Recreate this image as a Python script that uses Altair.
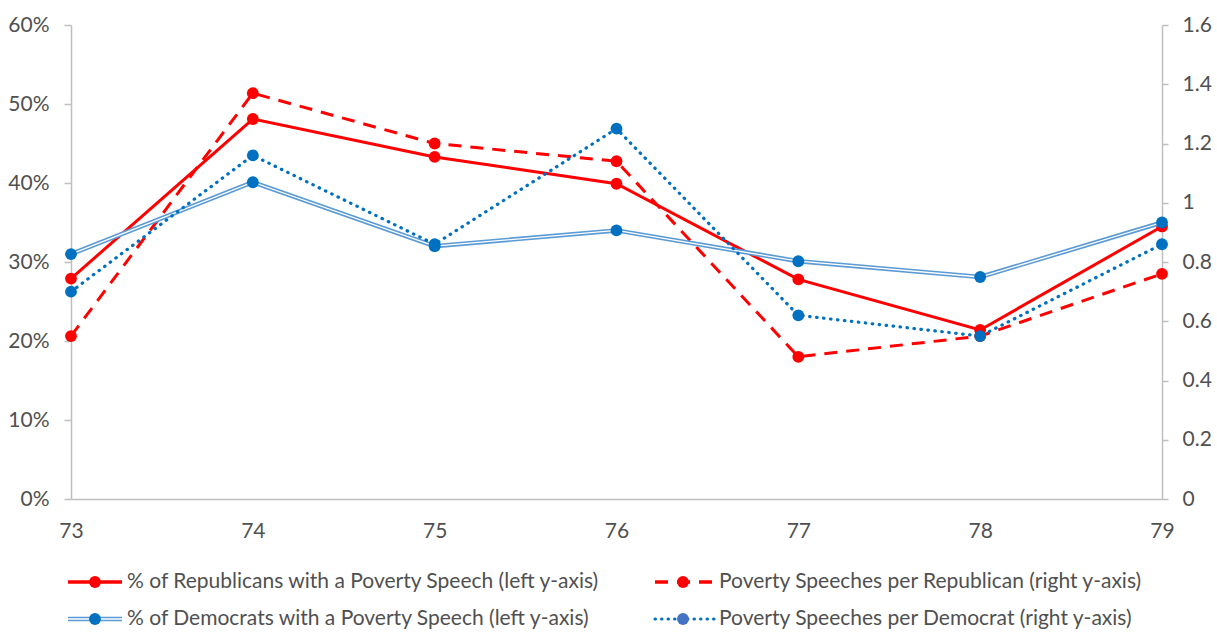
import altair as alt
import pandas as pd

# Congress numbers and the four series
congress = [73, 74, 75, 76, 77, 78, 79]
rep_pct = [0.279, 0.481, 0.433, 0.399, 0.278, 0.214, 0.345]   # left axis
dem_pct = [0.310, 0.401, 0.320, 0.340, 0.301, 0.281, 0.350]   # left axis
rep_per = [0.55, 1.37, 1.20, 1.14, 0.48, 0.55, 0.76]          # right axis
dem_per = [0.70, 1.16, 0.86, 1.25, 0.62, 0.55, 0.86]          # right axis

left_ticks = [0, 0.1, 0.2, 0.3, 0.4, 0.5, 0.6]
right_ticks = [0, 0.2, 0.4, 0.6, 0.8, 1.0, 1.2, 1.4, 1.6]

legend_labels = [
    "% of Republicans with a Poverty Speech (left y-axis)",
    "Poverty Speeches per Republican (right y-axis)",
    "% of Democrats with a Poverty Speech (left y-axis)",
    "Poverty Speeches per Democrat (right y-axis)",
]

df = pd.DataFrame({
    "congress": congress,
    "rep_pct": rep_pct,
    "dem_pct": dem_pct,
    "rep_per": rep_per,
    "dem_per": dem_per,
})

FONT = "Lato"
FS = 21
GREY = "#505050"
AXIS_GREY = "#BFBFBF"
RED = "#FF0000"
BLUE = "#0070C0"
LIGHT_BLUE = "#5B9BD5"

W, H = 1091, 474

x_enc = alt.X(
    "congress:Q",
    scale=alt.Scale(domain=[73, 79], nice=False, zero=False),
    axis=alt.Axis(values=congress, format="d", title=None, grid=False,
                  ticks=False, domainColor=AXIS_GREY, domainWidth=1.5,
                  labelFontSize=FS, labelColor=GREY, labelFont=FONT,
                  labelPadding=21, labelFlush=False),
)

left_scale = alt.Scale(domain=[0, 0.6], nice=False)
right_scale = alt.Scale(domain=[0, 1.6], nice=False)

left_axis = alt.Axis(values=left_ticks, format=".0%", title=None, grid=False,
                     orient="left", domainColor=AXIS_GREY, domainWidth=1.5,
                     tickColor=AXIS_GREY, tickWidth=1.5, tickSize=7,
                     labelFontSize=FS, labelColor=GREY, labelFont=FONT,
                     labelPadding=15, labelFlush=False)
right_axis = alt.Axis(values=right_ticks, format="~g", title=None, grid=False,
                      orient="right", domainColor=AXIS_GREY, domainWidth=1.5,
                      tickColor=AXIS_GREY, tickWidth=1.5, tickSize=6,
                      labelFontSize=FS, labelColor=GREY, labelFont=FONT,
                      labelPadding=14, labelFlush=False)

base = alt.Chart(df)
DOT = 140


def y_left(field, with_axis=False):
    return alt.Y(f"{field}:Q", scale=left_scale,
                 axis=left_axis if with_axis else None)


def y_right(field, with_axis=False):
    return alt.Y(f"{field}:Q", scale=right_scale,
                 axis=right_axis if with_axis else None)


# Republicans share (solid red) - carries the left axis
rep_pct_layer = alt.layer(
    base.mark_line(color=RED, strokeWidth=3).encode(x=x_enc, y=y_left("rep_pct", True)),
    base.mark_point(filled=True, opacity=1, color=RED, size=DOT).encode(x=x_enc, y=y_left("rep_pct", True)),
)

# Speeches per Republican (dashed red) - carries the right axis
rep_per_layer = alt.layer(
    base.mark_line(color=RED, strokeWidth=3, strokeDash=[13, 9]).encode(x=x_enc, y=y_right("rep_per", True)),
    base.mark_point(filled=True, opacity=1, color=RED, size=DOT).encode(x=x_enc, y=y_right("rep_per", True)),
)

# Democrats share (double blue line)
dem_pct_layer = alt.layer(
    base.mark_line(color=LIGHT_BLUE, strokeWidth=4.5).encode(x=x_enc, y=y_left("dem_pct")),
    base.mark_line(color="white", strokeWidth=1.3).encode(x=x_enc, y=y_left("dem_pct")),
    base.mark_point(filled=True, opacity=1, color=BLUE, size=DOT).encode(x=x_enc, y=y_left("dem_pct")),
)

# Speeches per Democrat (dotted blue)
dem_per_layer = alt.layer(
    base.mark_line(color=BLUE, strokeWidth=3.2, strokeDash=[0.5, 6.5], strokeCap="round").encode(x=x_enc, y=y_right("dem_per")),
    base.mark_point(filled=True, opacity=1, color=BLUE, size=DOT).encode(x=x_enc, y=y_right("dem_per")),
)


# Legend drawn below the plot area, two columns by two rows
def legend_entry(label, x0, x1, xdot, xtext, y, line_layers, dot_color):
    src = alt.Chart(pd.DataFrame({"label": [label]}))
    layers = []
    for props in line_layers:
        layers.append(src.mark_rule(**props).encode(
            x=alt.value(x0), x2=alt.value(x1), y=alt.value(y)))
    layers.append(src.mark_point(filled=True, opacity=1, color=dot_color, size=DOT).encode(
        x=alt.value(xdot), y=alt.value(y)))
    layers.append(src.mark_text(align="left", baseline="middle", font=FONT, fontSize=FS,
                                color=GREY).encode(
        x=alt.value(xtext), y=alt.value(y), text="label:N"))
    return alt.layer(*layers)


row1, row2 = H + 83, H + 120
legend = alt.layer(
    legend_entry(legend_labels[0], -3, 51, 24, 56, row1,
                 [dict(color=RED, strokeWidth=3.5)], RED),
    legend_entry(legend_labels[1], 584, 643, 612, 648, row1,
                 [dict(color=RED, strokeWidth=3.5, strokeDash=[13, 9])], RED),
    legend_entry(legend_labels[2], -3, 51, 24, 56, row2,
                 [dict(color=LIGHT_BLUE, strokeWidth=4.5), dict(color="white", strokeWidth=1.3)], BLUE),
    legend_entry(legend_labels[3], 584, 643, 612, 648, row2,
                 [dict(color=BLUE, strokeWidth=3, strokeDash=[0.5, 6], strokeCap="round")], "#4472C4"),
)

chart = alt.layer(
    rep_pct_layer, rep_per_layer, dem_pct_layer, dem_per_layer, legend
).resolve_scale(y="independent").properties(
    width=W, height=H,
    autosize=alt.AutoSizeParams(type="none"),
    padding={"left": 71, "top": 25, "right": 55, "bottom": 133},
    background="white",
).configure_view(stroke=None)

chart.save("out.html", embed_options={"renderer": "svg", "actions": False})
